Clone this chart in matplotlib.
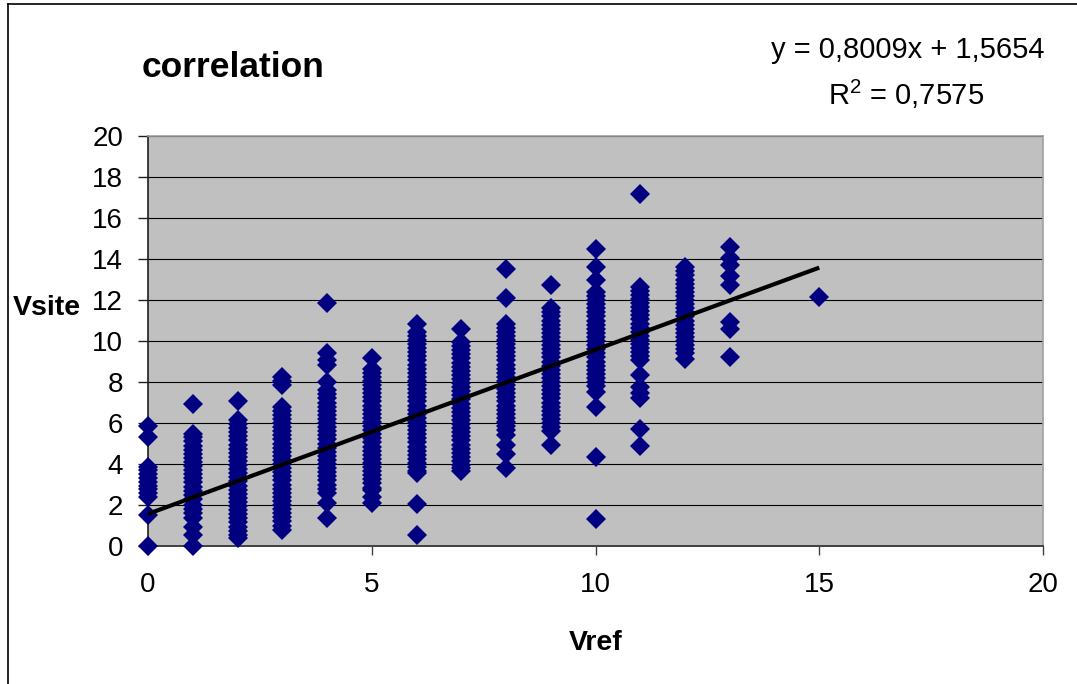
import matplotlib
matplotlib.use("Agg")
import matplotlib.pyplot as plt
from matplotlib.lines import Line2D

plt.rcParams['font.family'] = ['Liberation Sans', 'DejaVu Sans']
plt.rcParams['mathtext.default'] = 'regular'

# ---- data ----
vref_levels = [0, 1, 2, 3, 4, 5, 6, 7, 8, 9, 10, 11, 12, 13, 15]

vsite_0 = [5.85, 5.3, 3.85, 3.7, 3.5, 3.3, 3.1, 2.95, 2.8, 2.6, 2.4, 1.5, 0.0]
vsite_1 = [6.95, 5.45, 5.3, 5.1, 4.9, 4.7, 4.5, 4.3, 4.1, 3.9, 3.7, 3.5, 3.3, 3.1,
           2.9, 2.7, 2.5, 2.3, 2.0, 1.8, 1.6, 1.35, 0.95, 0.55, 0.0]
vsite_2 = [7.05, 6.15, 5.95, 5.75, 5.55, 5.35, 5.15, 4.95, 4.75, 4.55, 4.35, 4.15,
           3.95, 3.75, 3.55, 3.35, 3.15, 2.95, 2.75, 2.55, 2.35, 2.15, 1.95, 1.75,
           1.55, 1.35, 1.15, 0.95, 0.75, 0.55, 0.4]
vsite_3 = [8.25, 8.05, 7.85, 6.8, 6.6, 6.4, 6.2, 6.0, 5.8, 5.6, 5.4, 5.2, 5.0, 4.8,
           4.6, 4.4, 4.2, 4.0, 3.8, 3.6, 3.4, 3.2, 3.0, 2.8, 2.6, 2.4, 2.2, 2.0,
           1.8, 1.6, 1.4, 1.2, 1.0, 0.8]
vsite_4 = [11.85, 9.4, 9.05, 8.85, 8.0, 7.6, 7.4, 7.2, 7.0, 6.8, 6.6, 6.4, 6.2, 6.0,
           5.8, 5.6, 5.4, 5.2, 5.0, 4.8, 4.6, 4.4, 4.2, 4.0, 3.8, 3.6, 3.4, 3.2,
           3.0, 2.8, 2.6, 2.1, 1.35]
vsite_5 = [9.15, 8.65, 8.45, 8.25, 8.05, 7.85, 7.65, 7.45, 7.25, 7.05, 6.85, 6.65,
           6.45, 6.25, 6.05, 5.85, 5.65, 5.45, 5.25, 5.05, 4.85, 4.65, 4.45, 4.25,
           4.05, 3.85, 3.65, 3.45, 3.25, 3.05, 2.85, 2.75, 2.4, 2.1]
vsite_6 = [10.85, 10.45, 10.25, 10.05, 9.85, 9.65, 9.45, 9.25, 9.05, 8.85, 8.65,
           8.45, 8.25, 8.05, 7.85, 7.65, 7.45, 7.25, 7.05, 6.85, 6.65, 6.45, 6.25,
           6.05, 5.85, 5.65, 5.45, 5.25, 5.05, 4.85, 4.65, 4.45, 4.25, 4.05, 3.85,
           3.65, 3.55, 2.05, 0.55]
vsite_7 = [10.6, 9.95, 9.75, 9.55, 9.35, 9.15, 8.95, 8.75, 8.55, 8.35, 8.15, 7.95,
           7.75, 7.55, 7.35, 7.15, 6.95, 6.75, 6.55, 6.35, 6.15, 5.95, 5.75, 5.55,
           5.35, 5.15, 4.95, 4.75, 4.55, 4.35, 4.15, 3.95, 3.8, 3.65]
vsite_8 = [13.5, 12.1, 10.85, 10.65, 10.45, 10.25, 10.05, 9.85, 9.65, 9.45, 9.25,
           9.05, 8.85, 8.65, 8.45, 8.25, 8.05, 7.85, 7.65, 7.45, 7.25, 7.05, 6.85,
           6.65, 6.45, 6.25, 6.05, 5.85, 5.65, 5.4, 4.95, 4.5, 3.8]
vsite_9 = [12.75, 11.6, 11.4, 11.2, 11.0, 10.8, 10.6, 10.4, 10.2, 10.0, 9.8, 9.6,
           9.4, 9.2, 9.0, 8.8, 8.6, 8.4, 8.2, 8.0, 7.8, 7.6, 7.4, 7.2, 7.0, 6.8,
           6.6, 6.4, 6.2, 6.0, 5.8, 5.6, 4.95]
vsite_10 = [14.5, 13.6, 13.0, 12.4, 12.2, 12.0, 11.8, 11.6, 11.4, 11.2, 11.0, 10.8,
            10.6, 10.4, 10.2, 10.0, 9.8, 9.6, 9.4, 9.2, 9.0, 8.8, 8.6, 8.4, 8.2,
            8.0, 7.8, 7.5, 6.8, 4.35, 1.3]
vsite_11 = [17.15, 12.65, 12.45, 12.25, 12.05, 11.85, 11.65, 11.45, 11.25, 11.05,
            10.85, 10.65, 10.45, 10.25, 10.05, 9.85, 9.65, 9.45, 9.25, 9.05, 8.35,
            7.75, 7.45, 7.2, 5.7, 4.9]
vsite_12 = [13.6, 13.4, 13.2, 13.0, 12.8, 12.6, 12.4, 12.2, 12.0, 11.8, 11.6, 11.4,
            11.2, 11.0, 10.8, 10.6, 10.4, 10.2, 10.0, 9.8, 9.6, 9.4, 9.1]
vsite_13 = [14.6, 14.05, 13.7, 13.15, 12.75, 10.95, 10.6, 9.2]
vsite_15 = [12.15]

vsite_columns = [vsite_0, vsite_1, vsite_2, vsite_3, vsite_4, vsite_5, vsite_6,
                 vsite_7, vsite_8, vsite_9, vsite_10, vsite_11, vsite_12,
                 vsite_13, vsite_15]

trend_slope = 0.8009
trend_intercept = 1.5654
r_squared = 0.7575

x_ticks = [0, 5, 10, 15, 20]
y_ticks = [0, 2, 4, 6, 8, 10, 12, 14, 16, 18, 20]

title_text = "correlation"
x_label = "Vref"
y_label = "Vsite"
equation_text = "y = 0,8009x + 1,5654"
r2_text = "R$^{2}$ = 0,7575"

# ---- build points ----
xs, ys = [], []
for lvl, col in zip(vref_levels, vsite_columns):
    xs.extend([lvl] * len(col))
    ys.extend(col)

W, H = 1077, 684
fig = plt.figure(figsize=(W / 100, H / 100), dpi=100)
fig.patch.set_facecolor('white')

ax = fig.add_axes([148 / W, 1 - 546 / H, (1043 - 148) / W, (546 - 136) / H])
ax.set_facecolor('#C0C0C0')
ax.set_xlim(x_ticks[0], x_ticks[-1])
ax.set_ylim(y_ticks[0], y_ticks[-1])
ax.set_xticks(x_ticks)
ax.set_yticks(y_ticks)

ax.yaxis.grid(True, color='black', linewidth=0.8, zorder=1)
ax.xaxis.grid(False)
ax.set_axisbelow(True)

ax.plot(xs, ys, linestyle='none', marker='D', markersize=10.2,
        markerfacecolor='#000080', markeredgewidth=0, color='#000080',
        zorder=3, clip_on=False)

x_min, x_max = min(vref_levels), max(vref_levels)
ax.plot([x_min, x_max],
        [trend_slope * x_min + trend_intercept, trend_slope * x_max + trend_intercept],
        color='black', linewidth=3.0, zorder=4, solid_capstyle='butt')

for side in ['top', 'right']:
    ax.spines[side].set_color('#A0A0A0')
    ax.spines[side].set_linewidth(1.2)
ax.spines['left'].set_color('#202020')
ax.spines['bottom'].set_color('#404040')
ax.spines['left'].set_linewidth(1.2)
ax.spines['bottom'].set_linewidth(1.4)

ax.tick_params(axis='y', direction='out', length=7, width=1, pad=11,
               labelsize=20, color='#202020', labelcolor='black')
ax.tick_params(axis='x', direction='out', length=6.5, width=1, pad=12,
               labelsize=20, color='#404040', labelcolor='black')

# texts
fig.text(142 / W, 1 - 77 / H, title_text, fontsize=25.5, fontweight='bold',
         ha='left', va='baseline')
fig.text(908 / W, 1 - 58 / H, equation_text, fontsize=21, ha='center', va='baseline')
fig.text(906 / W, 1 - 105 / H, r2_text, fontsize=21, ha='center', va='baseline')
fig.text(13 / W, 1 - 315 / H, y_label, fontsize=20.5, fontweight='bold',
         ha='left', va='baseline')
fig.text(596 / W, 1 - 650 / H, x_label, fontsize=20.5, fontweight='bold',
         ha='center', va='baseline')

# outer chart border (left and top visible in the reference)
fig.add_artist(Line2D([8 / W, 8 / W], [0, 1 - 4 / H], transform=fig.transFigure,
                      color='black', linewidth=1.2))
fig.add_artist(Line2D([8 / W, 1], [1 - 4 / H, 1 - 4 / H], transform=fig.transFigure,
                      color='black', linewidth=1.2))

fig.savefig('out.png', dpi=100)
